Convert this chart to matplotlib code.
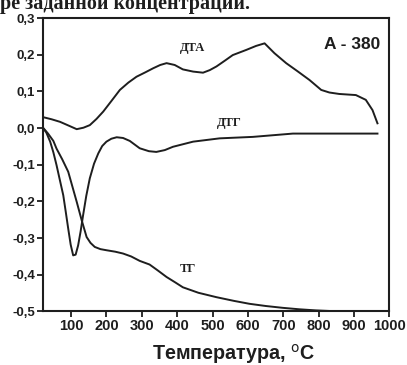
import matplotlib
matplotlib.use("Agg")
import matplotlib.pyplot as plt
from matplotlib.ticker import FuncFormatter

# DTA curve
dta_t = [20, 45, 69, 95, 116, 135, 153, 172, 191, 215, 238, 262, 285, 310, 332, 352, 370, 393, 416, 445, 473, 492, 511, 535, 557, 595, 623, 647, 675, 708, 740, 774, 807, 830, 858, 905, 933, 952, 966]
dta_v = [0.030, 0.024, 0.017, 0.006, -0.003, 0.001, 0.008, 0.025, 0.045, 0.075, 0.104, 0.124, 0.140, 0.152, 0.163, 0.172, 0.177, 0.172, 0.160, 0.154, 0.151, 0.158, 0.168, 0.184, 0.199, 0.213, 0.224, 0.231, 0.204, 0.177, 0.155, 0.131, 0.104, 0.097, 0.093, 0.090, 0.077, 0.049, 0.013]

# DTG curve
dtg_t = [20, 30, 41, 50, 59, 68, 78, 85, 92, 99, 106, 113, 120, 127, 134, 143, 153, 165, 177, 188, 200, 214, 229, 247, 266, 294, 320, 341, 365, 388, 445, 520, 614, 727, 821, 966]
dtg_v = [0.001, -0.012, -0.037, -0.066, -0.101, -0.140, -0.183, -0.228, -0.274, -0.318, -0.347, -0.345, -0.320, -0.282, -0.238, -0.185, -0.137, -0.097, -0.069, -0.049, -0.037, -0.029, -0.025, -0.027, -0.035, -0.055, -0.063, -0.065, -0.060, -0.051, -0.037, -0.028, -0.024, -0.015, -0.015, -0.015]

# TG curve
tg_t = [20, 35, 50, 59, 75, 92, 104, 116, 130, 144, 155, 167, 183, 200, 225, 247, 270, 294, 322, 345, 370, 395, 416, 460, 511, 560, 604, 650, 698, 745, 792, 840, 886, 900]
tg_v = [0.002, -0.015, -0.035, -0.056, -0.085, -0.119, -0.160, -0.201, -0.251, -0.297, -0.313, -0.324, -0.330, -0.333, -0.337, -0.342, -0.350, -0.362, -0.372, -0.388, -0.406, -0.421, -0.434, -0.449, -0.461, -0.471, -0.479, -0.485, -0.490, -0.494, -0.497, -0.499, -0.500, -0.500]

x_ticks = [100, 200, 300, 400, 500, 600, 700, 800, 900, 1000]
y_ticks = [-0.5, -0.4, -0.3, -0.2, -0.1, 0.0, 0.1, 0.2, 0.3]

fig = plt.figure(figsize=(4.07, 3.65), dpi=100)
ax = fig.add_axes([0.105, 0.1466, 0.852, 0.804])

lc = "#1e1e1e"
ax.plot(dta_t, dta_v, color=lc, lw=1.4, solid_joinstyle="round")
ax.plot(dtg_t, dtg_v, color=lc, lw=1.4, solid_joinstyle="round")
ax.plot(tg_t, tg_v, color=lc, lw=1.4, solid_joinstyle="round")

ax.set_xlim(20, 1000)
ax.set_ylim(-0.5, 0.3)
ax.set_xticks(x_ticks)
ax.set_yticks(y_ticks)

def yfmt(v, pos):
    return ("%.1f" % v).replace(".", ",")
ax.yaxis.set_major_formatter(FuncFormatter(yfmt))

for lab in ax.get_xticklabels():
    lab.set_fontfamily("Liberation Sans")
    lab.set_fontweight("bold")
    lab.set_fontsize(10.5)
for lab in ax.get_yticklabels():
    lab.set_fontfamily("Liberation Sans")
    lab.set_fontweight("bold")
    lab.set_fontsize(9.5)

ax.tick_params(axis="both", direction="out", length=4, width=1.3, colors=lc, pad=1.5)
for s in ax.spines.values():
    s.set_linewidth(1.5)
    s.set_color(lc)

ax.set_xlabel("Температура, $^{\\mathrm{o}}$C", fontfamily="Liberation Sans", fontweight="bold", fontsize=14.2, color=lc)
ax.xaxis.set_label_coords(0.549, -0.105)

ax.text(444, 0.219, "ДТА", fontfamily="Liberation Serif", fontweight="bold", fontsize=9, ha="center", va="center", color=lc)
ax.text(548, 0.013, "ДТГ", fontfamily="Liberation Serif", fontweight="bold", fontsize=9, ha="center", va="center", color=lc)
ax.text(430, -0.383, "ТГ", fontfamily="Liberation Serif", fontweight="bold", fontsize=9, ha="center", va="center", color=lc)
ax.text(895, 0.227, "A - 380", fontfamily="Liberation Sans", fontweight="bold", fontsize=12.5, ha="center", va="center", color=lc)

fig.text(0.0, 1 - 9.5 / 365, "ре заданной концентрации.", fontfamily="Liberation Serif", fontweight="bold", fontsize=14.5, ha="left", va="baseline", color=lc)

fig.savefig("out.png", dpi=100)
